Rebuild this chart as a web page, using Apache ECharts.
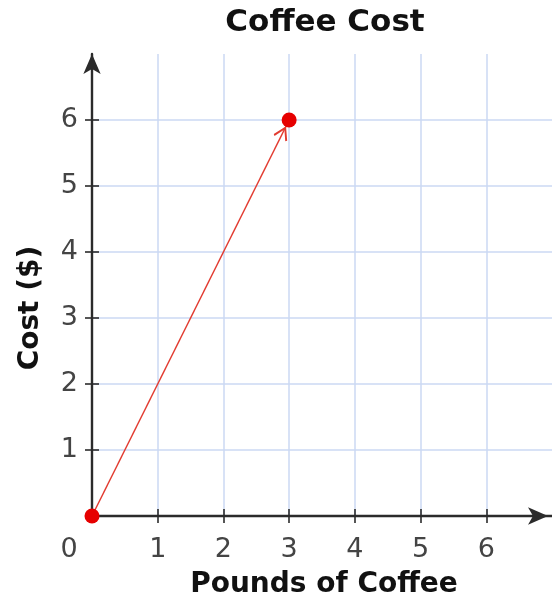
<!DOCTYPE html>
<html><head><meta charset="utf-8">
<script src="https://cdn.jsdelivr.net/npm/echarts@6/dist/echarts.min.js"></script>
<style>html,body{margin:0;padding:0;background:#fff}#c{width:552px;height:603px}</style>
</head><body><div id="c"></div>
<script>
const titleText = 'Coffee Cost';
const xName = 'Pounds of Coffee';
const yName = 'Cost ($)';
const xLabels = [0, 1, 2, 3, 4, 5, 6];
const yLabels = [1, 2, 3, 4, 5, 6];
const tickValues = [1, 2, 3, 4, 5, 6];
const pounds = [0, 3];
const cost = [0, 6];

const FONT = '"DejaVu Sans", Verdana, sans-serif';
const AXIS_COLOR = '#2b2b2b';
const GRID_COLOR = '#cbd8f3';
const LABEL_SIZE = 27;
const points = pounds.map((p, i) => [p, cost[i]]);

// open chevron arrow head in a square box; tip sits below the box centre so it stops at the dot's edge
const chevron = 'path://M0,22 M44,22 M22,0 M22,44 M22,29 L29.5,41.5 L28,42.8 L22,32.6 L16,42.8 L14.5,41.5 Z';

const chart = echarts.init(document.getElementById('c'), null, {renderer: 'canvas'});
const baseAxis = {type: 'value', min: 0, max: 7, interval: 1};
const tickStyle = {color: AXIS_COLOR, width: 1.6};
chart.setOption({
  animation: false,
  backgroundColor: '#fff',
  grid: {left: 92, top: 54, width: 462, height: 462, containLabel: false},
  xAxis: [
    Object.assign({}, baseAxis, {
      position: 'bottom',
      axisLine: {show: true, onZero: false, symbol: ['none', 'arrow'], symbolSize: [13, 20], symbolOffset: [0, -4],
        lineStyle: {color: AXIS_COLOR, width: 2.4}},
      axisTick: {show: true, inside: false, length: 7, customValues: tickValues, lineStyle: tickStyle},
      axisLabel: {customValues: xLabels, margin: 20, fontSize: LABEL_SIZE, color: '#444', fontFamily: FONT,
        formatter: v => v === 0 ? '{z|0}' : String(v),
        rich: {z: {padding: [0, 46, 0, 0], fontSize: LABEL_SIZE, color: '#444', fontFamily: FONT}}},
      splitLine: {show: true, lineStyle: {color: GRID_COLOR, width: 1.5}}
    }),
    Object.assign({}, baseAxis, {
      position: 'bottom',
      axisLine: {show: false},
      axisTick: {show: true, inside: true, length: 7, customValues: tickValues, lineStyle: tickStyle},
      axisLabel: {show: false},
      splitLine: {show: false}
    })
  ],
  yAxis: [
    Object.assign({}, baseAxis, {
      position: 'left',
      axisLine: {show: true, onZero: false, symbol: ['none', 'arrow'], symbolSize: [13, 20],
        lineStyle: {color: AXIS_COLOR, width: 2.4}},
      axisTick: {show: true, inside: false, length: 7, customValues: tickValues, lineStyle: tickStyle},
      axisLabel: {customValues: yLabels, margin: 14, fontSize: LABEL_SIZE, color: '#444', fontFamily: FONT},
      splitLine: {show: true, lineStyle: {color: GRID_COLOR, width: 1.5}}
    }),
    Object.assign({}, baseAxis, {
      position: 'left',
      axisLine: {show: false},
      axisTick: {show: true, inside: true, length: 7, customValues: tickValues, lineStyle: tickStyle},
      axisLabel: {show: false},
      splitLine: {show: false}
    })
  ],
  graphic: [
    {type: 'text', x: 325, y: 23, z: 10, style: {text: titleText, font: 'bold 31px ' + FONT, fill: '#111', align: 'center', verticalAlign: 'middle'}},
    {type: 'text', x: 324, y: 585, z: 10, style: {text: xName, font: 'bold 28px ' + FONT, fill: '#111', align: 'center', verticalAlign: 'middle'}},
    {type: 'text', x: 31, y: 308, rotation: Math.PI / 2, z: 10, style: {text: yName, font: 'bold 28px ' + FONT, fill: '#111', align: 'center', verticalAlign: 'middle'}}
  ],
  series: [
    {
      type: 'lines', coordinateSystem: 'cartesian2d', xAxisIndex: 0, yAxisIndex: 0, z: 3,
      symbol: ['none', chevron], symbolSize: 44,
      lineStyle: {color: '#e23b30', width: 1.5, opacity: 1},
      data: [{coords: points}]
    },
    {
      type: 'scatter', xAxisIndex: 0, yAxisIndex: 0, z: 5, clip: false,
      symbol: 'circle', symbolSize: 15,
      itemStyle: {color: '#e60000', opacity: 1},
      data: points
    }
  ]
});
</script></body></html>
